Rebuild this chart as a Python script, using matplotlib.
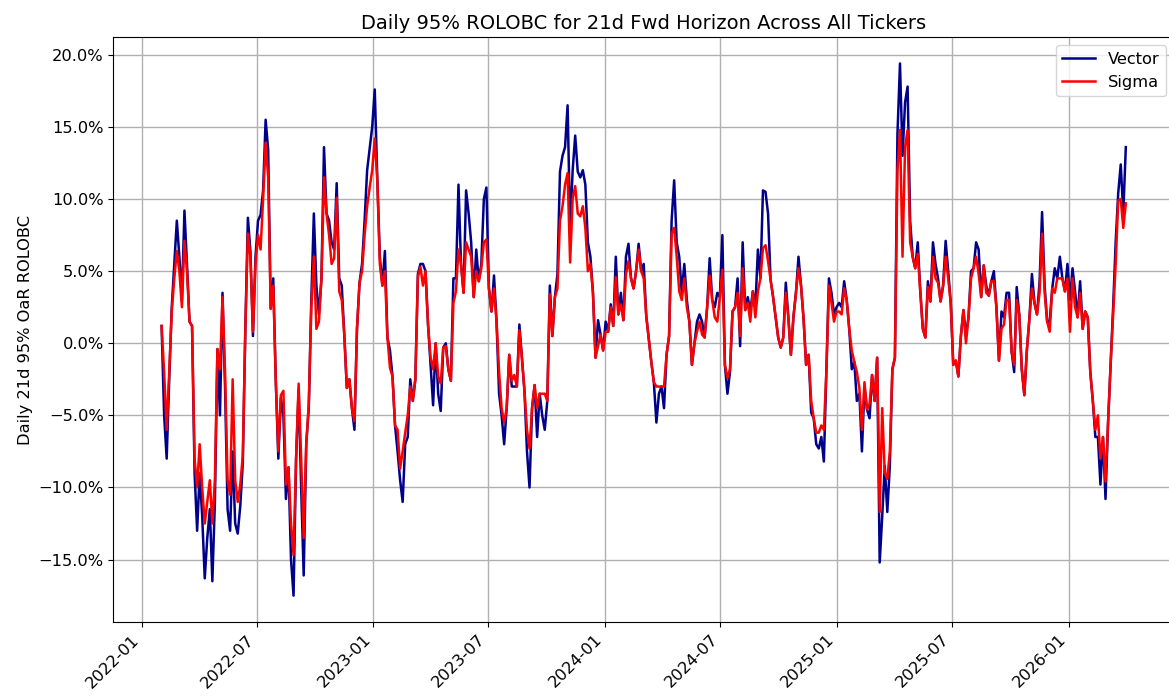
import matplotlib
matplotlib.use('Agg')
import matplotlib.pyplot as plt
import matplotlib.dates as mdates
from matplotlib.ticker import PercentFormatter, MultipleLocator
import pandas as pd

# readings, one every 4 days starting 2022-02-01, in percent
vector = [
    1.2, -5.0, -8.0, -2.5, 2.5, 5.5, 8.5, 6.0, 3.0, 9.2, 5.5, 1.5, 1.2, -9.0, -13.0, -9.0, -12.0, -16.3, -13.5, -11.5,
    -16.5, -11.0, -0.4, -5.0, 3.5, -3.0, -11.5, -13.0, -7.5, -12.5, -13.2, -11.3, -8.3, 1.0, 8.7, 6.4, 0.5, 6.0, 8.5, 8.9,
    10.6, 15.5, 13.4, 2.4, 4.5, -2.6, -8.0, -3.8, -5.0, -10.8, -8.6, -15.0, -17.5, -8.0, -3.2, -10.0, -16.1, -7.0, -4.5, 3.0,
    9.0, 4.0, 2.0, 4.5, 13.6, 9.0, 8.5,
    7.0, 6.5, 11.1, 4.5, 4.0, 0.6, -3.1, -2.5, -4.5, -6.0, 1.0, 4.2, 5.5, 8.5, 12.0, 13.5, 15.0, 17.6, 11.5, 6.0,
    4.0, 6.4, 0.4, -0.5, -2.3, -5.7, -7.5, -9.5, -11.0, -7.0, -6.5, -2.5, -4.0, -2.5, 4.8, 5.5, 5.5, 5.0, 1.3, -1.5,
    -4.3, 0.0, -3.5, -4.7, -0.3, 0.0, -1.8, -2.6, 4.5, 4.5, 11.0, 5.5, 3.5, 10.6, 9.0, 7.0, 3.2, 6.5, 4.3, 5.5,
    10.0, 10.8, 3.8, 2.2, 4.7, 1.5, -3.5,
    -5.0, -7.0, -4.5, -0.8, -3.0, -3.0, -3.0, 1.3, -1.0, -3.3, -7.5, -10.0, -4.5, -2.9, -6.5, -3.5, -5.0, -6.0, -4.0, 4.0,
    0.5, 3.2, 4.8, 11.9, 13.0, 13.6, 16.5, 8.0, 12.0, 14.4, 11.9, 11.5, 12.0, 11.0, 7.0, 6.0, 3.5, -1.0, 1.6, 0.6,
    -0.5, 1.5, 0.8, 2.7, 1.2, 6.0, 2.0, 3.5, 1.6, 6.0, 6.9, 4.5, 3.8, 5.0, 6.9, 5.0, 5.5, 1.9, 0.3, -1.3,
    -2.7, -5.5, -3.5, -3.0, -4.5, -0.8, 0.5,
    8.5, 11.3, 7.0, 6.0, 3.5, 5.5, 3.0, 1.5, -1.5, 0.0, 1.5, 2.0, 1.5, 0.4, 2.5, 5.9, 3.0, 2.5, 3.5, 3.2,
    7.5, -1.5, -3.5, -2.0, 2.2, 2.5, 4.5, -0.2, 7.0, 2.3, 3.2, 2.2, 3.6, 2.5, 6.5, 4.5, 10.6, 10.5, 9.0, 4.4,
    3.2, 1.8, 0.4, -0.3, 0.4, 4.2, 1.8, -0.8, 1.8, 3.5, 6.0, 4.0, 1.7, -1.5, -0.8, -4.8, -5.2, -7.0, -7.3, -6.5,
    -8.2, -1.9, 4.5, 3.5, 2.0, 2.5, 2.8,
    2.5, 4.3, 3.0, 1.0, -1.8, -1.3, -4.0, -3.5, -7.5, -3.0, -4.6, -5.2, -2.2, -4.0, -1.0, -15.2, -12.0, -8.5, -11.7, -8.5,
    -1.8, -1.0, 14.5, 19.4, 13.0, 16.7, 17.8, 8.5, 6.0, 5.2, 7.0, 3.6, 1.0, 0.4, 4.3, 2.9, 7.0, 5.5, 4.5, 2.9,
    4.0, 7.1, 5.0, 2.8, -1.5, -1.2, -2.3, 0.5, 2.3, 0.5, 1.8, 5.0, 5.2, 7.0, 6.5, 3.2, 5.4, 4.0, 3.3, 4.3,
    5.0, 2.5, -1.2, 2.2, 1.8, 3.5, 3.5,
    -0.6, -2.0, 3.9, 2.0, -1.8, -3.6, -0.5, 1.7, 4.8, 2.8, 2.0, 4.2, 9.1, 4.0, 1.5, 1.5, 3.8, 5.2, 4.5, 6.0,
    4.5, 3.6, 5.5, 3.0, 5.2, 3.6, 1.8, 4.3, 1.0, 2.2, 1.8, -2.0, -4.0, -6.5, -6.5, -9.8, -6.5, -10.8, -5.5, -1.5,
    2.5, 7.0, 10.4, 12.4, 9.0, 13.6,
]

sigma = [
    1.2, -2.0, -6.0, -2.0, 2.2, 4.5, 6.4, 5.0, 2.5, 7.1, 5.0, 1.5, 1.2, -8.0, -10.0, -7.0, -10.0, -12.5, -11.0, -9.5,
    -12.5, -9.5, -0.4, -1.8, 3.2, -2.0, -9.5, -10.5, -2.5, -9.5, -11.0, -9.8, -7.8, 1.0, 7.6, 6.0, 0.8, 5.5, 7.5, 6.5,
    10.0, 13.9, 11.5, 2.4, 4.0, -2.6, -7.5, -3.6, -3.3, -9.8, -8.6, -12.5, -14.7, -8.0, -2.8, -8.0, -13.5, -7.0, -4.2, 2.5,
    6.0, 1.0, 1.5, 4.5, 11.5, 9.0, 7.5,
    5.5, 5.9, 10.1, 3.6, 3.0, 0.6, -3.1, -2.5, -4.5, -5.4, 1.0, 4.2, 5.0, 7.5, 9.5, 10.8, 12.0, 14.2, 11.3, 5.5,
    4.0, 5.0, 0.4, -1.7, -2.3, -5.7, -6.0, -8.7, -7.5, -6.2, -5.0, -3.0, -4.0, -2.5, 4.6, 5.3, 4.0, 5.0, 1.3, -1.0,
    -1.8, 0.0, -2.3, -2.8, -0.3, -0.2, -1.8, -2.6, 2.8, 3.6, 6.5, 5.5, 3.5, 7.0, 6.5, 6.0, 3.2, 5.0, 4.3, 5.2,
    7.0, 7.2, 3.8, 2.2, 3.8, 1.5, -2.0,
    -4.5, -5.5, -4.5, -0.8, -2.6, -2.2, -3.0, 0.9, -1.0, -3.3, -6.0, -7.3, -4.5, -2.9, -4.5, -3.5, -3.5, -3.5, -4.0, 3.4,
    0.5, 3.2, 3.8, 8.5, 9.5, 11.0, 11.8, 5.6, 10.0, 10.9, 9.0, 8.8, 9.5, 8.0, 5.0, 5.5, 3.5, -1.0, -0.2, 0.6,
    -0.5, 0.8, 0.8, 2.5, 1.2, 4.6, 2.0, 2.7, 1.6, 4.8, 5.7, 4.5, 3.8, 5.0, 6.5, 5.0, 4.5, 1.9, 0.3, -1.3,
    -2.7, -3.0, -3.0, -3.0, -3.0, -0.8, 0.5,
    7.6, 8.0, 6.0, 3.6, 3.0, 4.5, 2.5, 1.5, -1.5, 0.0, 0.8, 1.5, 0.6, 0.4, 2.5, 4.7, 3.0, 1.8, 1.5, 3.2,
    5.1, -1.5, -2.4, -1.8, 2.2, 2.5, 3.5, 0.5, 5.2, 2.3, 2.8, 1.5, 3.6, 1.8, 3.6, 4.5, 6.6, 6.8, 5.7, 4.4,
    3.2, 1.8, 0.4, -0.3, 0.4, 3.5, 1.8, -0.8, 1.8, 3.5, 5.2, 4.0, 1.7, -1.5, -0.8, -4.0, -5.2, -6.2, -6.2, -5.7,
    -6.0, -1.9, 4.0, 2.8, 1.5, 2.2, 2.2,
    2.0, 3.8, 3.0, 1.0, -0.5, -1.3, -2.0, -3.1, -6.0, -2.7, -4.6, -4.2, -2.2, -4.0, -1.0, -11.7, -4.5, -9.0, -9.4, -7.5,
    -1.8, -1.0, 12.0, 14.8, 6.0, 13.6, 14.8, 7.0, 6.0, 5.2, 6.2, 3.6, 1.0, 0.4, 3.9, 2.9, 6.0, 4.5, 4.2, 2.9,
    4.0, 6.0, 4.5, 2.8, -1.5, -1.2, -2.3, 0.5, 2.3, 0.0, 1.8, 4.5, 5.2, 6.0, 4.8, 3.2, 5.4, 3.5, 3.3, 4.3,
    4.3, 2.5, -1.2, 1.0, 1.3, 3.0, 3.0,
    -0.6, -1.5, 3.0, 2.0, -1.8, -3.6, -0.5, 1.7, 3.8, 2.8, 2.0, 3.5, 7.6, 3.5, 1.5, 0.8, 3.8, 3.5, 4.5, 4.5,
    4.5, 3.6, 4.5, 0.8, 4.5, 2.5, 1.8, 3.5, 1.0, 2.2, 1.8, -2.0, -4.0, -6.0, -5.0, -8.0, -6.5, -9.6, -5.5, -1.5,
    2.0, 5.5, 9.9, 10.0, 8.0, 9.7,
]

dates = pd.date_range('2022-02-01', periods=len(vector), freq='4D')

fig, ax = plt.subplots(figsize=(11.69, 6.96), dpi=100)
# the right edge of the axes runs just past the canvas, as in the reference crop
fig.subplots_adjust(left=0.097, right=1.0043, top=0.947, bottom=0.106)

ax.plot(dates, vector, color='darkblue', lw=1.8, label='Vector')
ax.plot(dates, sigma, color='red', lw=1.8, label='Sigma')

ax.set_title('Daily 95% ROLOBC for 21d Fwd Horizon Across All Tickers', fontsize=14)
ax.set_ylabel('Daily 21d 95% OaR ROLOBC', fontsize=11.7)
ax.yaxis.set_major_locator(MultipleLocator(5))
ax.yaxis.set_major_formatter(PercentFormatter(xmax=100, decimals=1))
ax.xaxis.set_major_locator(mdates.MonthLocator(bymonth=[1, 7]))
ax.xaxis.set_major_formatter(mdates.DateFormatter('%Y-%m'))
ax.tick_params(labelsize=11.7)
for lbl in ax.get_xticklabels():
    lbl.set_rotation(45)
    lbl.set_ha('right')

ax.grid(True, color='#b0b0b0', lw=1)
ax.legend(loc='upper right', fontsize=11.7)

fig.savefig('out.png', dpi=100)
